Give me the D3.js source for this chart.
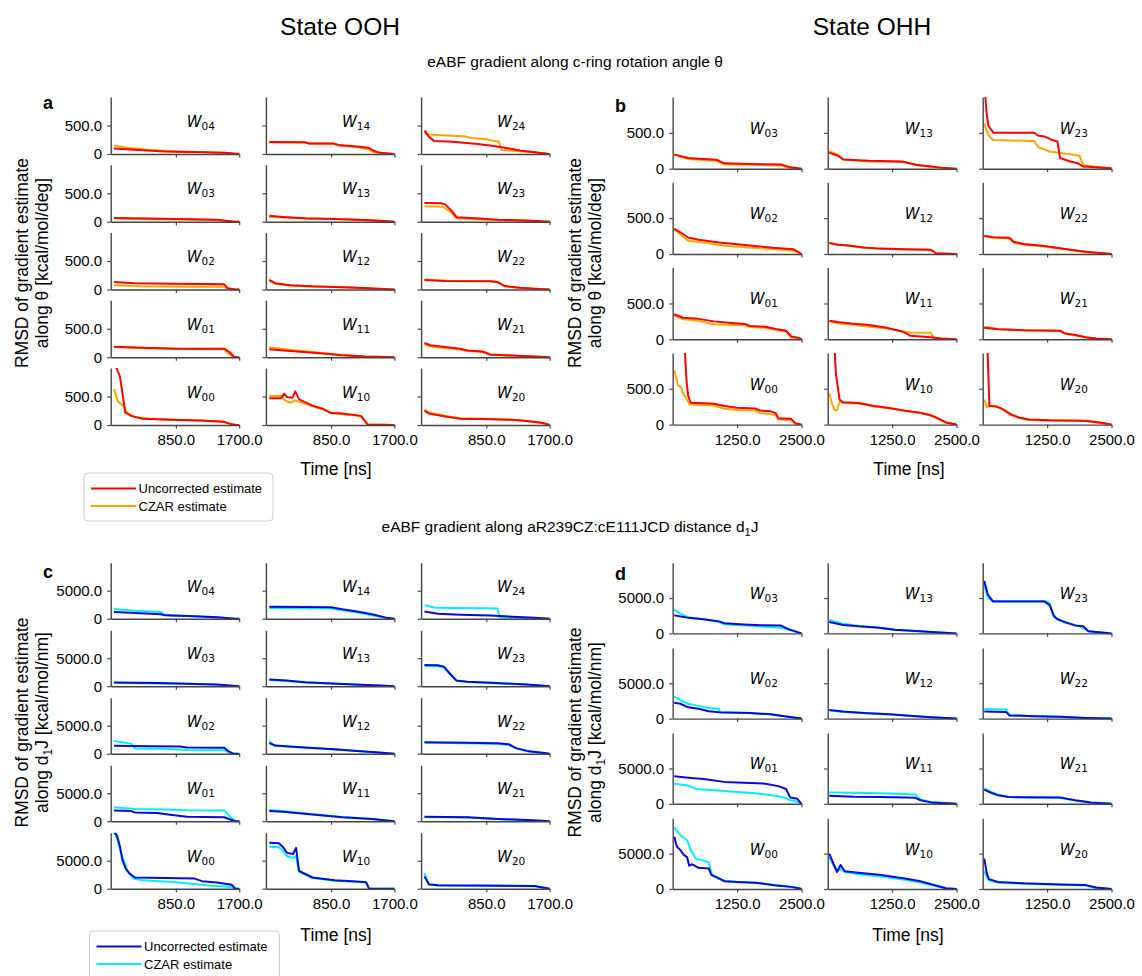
<!DOCTYPE html>
<html>
<head>
<meta charset="utf-8">
<script src="https://cdn.jsdelivr.net/npm/d3@7"></script>
<style>
  body { margin: 0; background: #fff; }
  svg text { font-family: "Liberation Sans", Arial, sans-serif; fill: #000; }
</style>
</head>
<body>
<svg id="chart" width="1142" height="976"></svg>
<script>
// RMSD of eABF gradient estimates per window, uncorrected vs CZAR

// window layout (rows top to bottom)
const gridOOH = [["W04","W14","W24"],["W03","W13","W23"],["W02","W12","W22"],["W01","W11","W21"],["W00","W10","W20"]];
const gridOHH = [["W03","W13","W23"],["W02","W12","W22"],["W01","W11","W21"],["W00","W10","W20"]];

// ticks
const xTicksOOH = [850, 1700], xTicksOHH = [1250, 2500];
const yTicksAngle = [0, 500], yTicksDist = [0, 5000];

// series: [time ns, RMSD]
const angleOOH_uncorr = {
  W04: [[20,95],[300,75],[700,45],[1200,30],[1500,20],[1650,5],[1700,0]],
  W14: [[20,210],[500,205],[560,185],[880,185],[950,160],[1200,130],[1350,110],[1420,60],[1480,25],[1650,5],[1700,0]],
  W24: [[20,410],[80,300],[150,230],[400,215],[700,180],[900,150],[1100,110],[1300,60],[1500,30],[1700,0]],
  W03: [[20,65],[500,55],[1000,45],[1400,35],[1550,15],[1650,0],[1700,0]],
  W13: [[20,105],[200,85],[500,60],[900,50],[1200,35],[1450,20],[1700,0]],
  W23: [[20,330],[250,325],[300,300],[380,200],[450,80],[700,60],[1000,35],[1400,20],[1700,0]],
  W02: [[20,130],[300,110],[800,100],[1250,95],[1500,90],[1550,20],[1650,0],[1700,0]],
  W12: [[20,170],[100,110],[300,75],[600,55],[1000,40],[1300,25],[1550,10],[1700,0]],
  W22: [[20,165],[300,150],[900,145],[1000,130],[1100,60],[1300,30],[1500,15],[1700,0]],
  W01: [[20,185],[400,165],[900,150],[1500,150],[1560,100],[1640,0],[1700,0]],
  W11: [[20,140],[300,110],[700,70],[1000,35],[1300,15],[1700,0]],
  W21: [[20,250],[100,210],[300,180],[500,150],[600,120],[800,100],[900,50],[1200,30],[1500,15],[1700,0]],
  W00: [[20,1100],[100,850],[170,220],[250,160],[400,110],[800,90],[1200,80],[1500,55],[1580,20],[1650,0],[1700,0]],
  W10: [[20,470],[180,470],[220,550],[260,490],[330,480],[370,590],[420,450],[600,340],[750,280],[850,210],[1000,200],[1250,160],[1340,10],[1700,0]],
  W20: [[20,250],[80,200],[300,150],[500,110],[900,100],[1200,90],[1400,70],[1600,40],[1700,0]]
};
const angleOOH_czar = {
  W04: [[20,150],[200,110],[500,70],[900,45],[1300,30],[1600,15],[1700,0]],
  W14: [[20,205],[500,200],[560,180],[880,180],[950,150],[1200,120],[1350,85],[1400,40],[1500,20],[1650,5],[1700,0]],
  W24: [[20,400],[80,340],[300,325],[550,310],[650,280],[850,260],[950,230],[1020,220],[1050,70],[1300,50],[1500,25],[1700,0]],
  W03: [[20,55],[500,45],[1000,40],[1400,30],[1600,5],[1700,0]],
  W13: [[20,85],[200,75],[500,55],[900,48],[1200,35],[1450,18],[1700,0]],
  W23: [[20,270],[250,265],[300,240],[380,160],[450,60],[700,45],[1000,30],[1400,15],[1700,0]],
  W02: [[20,75],[400,55],[1000,50],[1500,50],[1550,5],[1700,0]],
  W12: [[20,150],[100,100],[300,70],[600,50],[1000,38],[1300,22],[1550,8],[1700,0]],
  W22: [[20,175],[300,155],[900,150],[1000,130],[1100,55],[1300,30],[1500,15],[1700,0]],
  W01: [[20,180],[400,160],[900,145],[1500,140],[1540,80],[1620,0],[1700,0]],
  W11: [[20,175],[300,130],[700,80],[1000,40],[1300,15],[1700,0]],
  W21: [[20,225],[100,190],[300,160],[500,135],[600,110],[800,90],[900,45],[1200,25],[1500,10],[1700,0]],
  W00: [[20,630],[70,420],[150,320],[200,210],[300,140],[500,110],[800,90],[1200,75],[1500,55],[1580,15],[1700,0]],
  W10: [[20,510],[180,510],[220,440],[300,390],[370,430],[420,410],[600,330],[750,270],[850,210],[1000,190],[1250,160],[1340,10],[1700,0]],
  W20: [[20,270],[80,220],[300,160],[500,120],[900,105],[1200,90],[1400,65],[1600,35],[1700,0]]
};

const angleOHH_uncorr = {
  W03: [[30,200],[300,150],[500,140],[850,125],[1000,75],[1500,65],[2100,60],[2250,25],[2500,0]],
  W13: [[30,225],[200,180],[300,130],[800,110],[1450,100],[1750,50],[2200,15],[2500,0]],
  W23: [[40,1100],[80,750],[110,600],[210,500],[1000,500],[1080,460],[1200,450],[1350,400],[1450,380],[1500,150],[1700,100],[1850,75],[1950,30],[2500,5]],
  W02: [[30,355],[150,300],[300,230],[500,200],[900,160],[1250,135],[1700,105],[2000,85],[2350,65],[2500,0]],
  W12: [[30,155],[200,130],[400,120],[700,90],[1000,75],[1500,65],[2000,60],[2100,10],[2500,0]],
  W22: [[30,255],[200,235],[520,225],[600,170],[800,140],[1200,110],[1600,70],[2000,30],[2500,0]],
  W01: [[30,350],[200,300],[500,285],[800,250],[1200,225],[1400,215],[1500,185],[1800,175],[2000,145],[2200,120],[2300,40],[2450,20],[2500,0]],
  W11: [[30,260],[200,240],[450,220],[800,200],[1150,160],[1250,140],[1450,110],[1600,50],[2000,30],[2200,10],[2500,0]],
  W21: [[30,160],[300,140],[800,125],[1500,120],[1600,80],[1800,60],[2000,30],[2200,10],[2500,0]],
  W00: [[230,1100],[270,600],[300,400],[350,305],[800,290],[1000,260],[1250,235],[1600,225],[1700,195],[1900,185],[2000,160],[2050,90],[2300,80],[2380,20],[2500,0]],
  W10: [[130,1100],[160,700],[230,350],[300,310],[600,300],[900,260],[1200,230],[1500,195],[1800,165],[2000,130],[2100,100],[2300,30],[2500,0]],
  W20: [[90,1100],[110,700],[130,260],[250,255],[350,230],[450,190],[550,140],[700,100],[900,70],[1300,60],[2000,55],[2300,25],[2500,0]]
};
const angleOHH_czar = {
  W03: [[30,190],[300,135],[500,125],[850,110],[1000,60],[1500,55],[2100,45],[2250,15],[2500,0]],
  W13: [[30,245],[200,195],[300,130],[800,100],[1450,95],[1750,45],[2200,12],[2500,0]],
  W23: [[30,630],[100,480],[200,400],[1000,385],[1080,300],[1200,270],[1300,240],[1500,220],[1700,200],[1880,180],[1950,50],[2200,25],[2500,5]],
  W02: [[30,345],[150,270],[300,185],[600,160],[1000,115],[1400,95],[2000,65],[2350,45],[2500,0]],
  W12: [[30,150],[200,128],[400,118],[700,88],[1000,72],[1500,62],[2000,58],[2100,8],[2500,0]],
  W22: [[30,245],[200,230],[520,215],[600,160],[800,130],[1200,105],[1600,65],[2000,25],[2500,0]],
  W01: [[30,330],[200,280],[500,260],[800,210],[1200,200],[1400,195],[1500,170],[1800,160],[2000,130],[2200,110],[2300,25],[2450,10],[2500,0]],
  W11: [[30,250],[200,225],[450,205],[800,175],[1150,150],[1250,140],[1450,110],[1600,95],[2000,90],[2060,15],[2500,0]],
  W21: [[30,175],[300,145],[800,125],[1500,120],[1600,80],[1800,55],[2000,25],[2200,8],[2500,0]],
  W00: [[30,755],[100,550],[170,520],[200,440],[250,380],[330,280],[800,265],[1000,220],[1250,205],[1600,195],[1700,160],[1900,145],[2000,130],[2050,70],[2300,60],[2380,10],[2500,0]],
  W10: [[30,440],[80,300],[130,210],[180,200],[240,330],[300,300],[600,295],[900,255],[1200,225],[1500,190],[1800,160],[2000,125],[2100,95],[2300,25],[2500,0]],
  W20: [[30,350],[80,240],[120,260],[250,250],[350,225],[450,180],[550,135],[700,95],[900,65],[1300,58],[2000,50],[2300,20],[2500,0]]
};

const distOOH_uncorr = {
  W04: [[20,1200],[300,1000],[650,800],[700,600],[1100,450],[1400,250],[1650,0],[1700,0]],
  W14: [[20,2150],[500,2100],[850,2050],[1000,1700],[1200,1300],[1400,800],[1600,150],[1700,0]],
  W24: [[20,1300],[200,900],[500,700],[900,550],[1200,350],[1500,150],[1700,0]],
  W03: [[20,680],[600,550],[1000,450],[1400,300],[1600,100],[1700,0]],
  W13: [[20,1200],[250,1000],[500,700],[1000,400],[1500,120],[1700,0]],
  W23: [[20,3800],[200,3750],[280,3500],[380,2000],[450,1000],[600,800],[1000,550],[1400,300],[1700,0]],
  W02: [[20,1400],[500,1350],[900,1300],[1000,1100],[1500,1050],[1560,400],[1620,0],[1700,0]],
  W12: [[20,1900],[100,1450],[500,1100],[900,800],[1200,500],[1500,200],[1700,0]],
  W22: [[20,2050],[600,1950],[1000,1850],[1150,1700],[1250,1000],[1400,500],[1600,150],[1700,0]],
  W01: [[20,1900],[250,1800],[300,1550],[600,1450],[800,1100],[1000,800],[1500,700],[1580,300],[1650,0],[1700,0]],
  W11: [[20,1800],[200,1700],[600,1200],[1000,700],[1400,400],[1700,0]],
  W21: [[20,800],[600,700],[1000,400],[1400,200],[1700,0]],
  W00: [[20,10200],[60,9500],[100,7500],[130,5200],[180,3500],[230,2700],[300,2000],[700,1900],[1100,1800],[1200,1350],[1400,1100],[1600,700],[1650,0],[1700,0]],
  W10: [[20,8200],[150,8100],[200,7500],[260,6400],[340,6200],[380,7300],[420,3200],[600,2000],[900,1500],[1200,1300],[1320,1150],[1360,0],[1700,0]],
  W20: [[20,2200],[80,800],[200,600],[800,550],[1500,500],[1700,0]]
};
const distOOH_czar = {
  W04: [[20,1750],[300,1400],[650,1200],[700,650],[1100,450],[1400,250],[1650,0],[1700,0]],
  W14: [[20,1900],[500,1850],[850,1800],[1000,1500],[1200,1100],[1400,600],[1600,100],[1700,0]],
  W24: [[20,2400],[150,2000],[400,1900],[800,1850],[1000,1800],[1030,200],[1300,150],[1700,0]],
  W03: [[20,620],[600,500],[1000,420],[1400,280],[1600,80],[1700,0]],
  W13: [[20,1100],[250,950],[500,650],[1000,380],[1500,100],[1700,0]],
  W23: [[20,3600],[200,3550],[280,3300],[380,1900],[450,950],[600,750],[1000,500],[1400,280],[1700,0]],
  W02: [[20,2250],[150,2000],[250,1800],[300,950],[700,900],[1000,650],[1500,600],[1560,200],[1620,0],[1700,0]],
  W12: [[20,2200],[100,1400],[500,1050],[900,750],[1200,480],[1500,180],[1700,0]],
  W22: [[20,1950],[600,1850],[1000,1750],[1150,1600],[1250,950],[1400,450],[1600,120],[1700,0]],
  W01: [[20,2500],[300,2200],[700,2100],[1000,1950],[1500,1900],[1600,500],[1650,0],[1700,0]],
  W11: [[20,2000],[200,1800],[600,1250],[1000,750],[1400,400],[1700,0]],
  W21: [[20,750],[600,650],[1000,380],[1400,180],[1700,0]],
  W00: [[20,10000],[60,9000],[100,7000],[150,5000],[200,3200],[280,1800],[400,1500],[800,1200],[1100,850],[1300,550],[1600,300],[1650,0],[1700,0]],
  W10: [[20,7500],[150,7400],[200,6800],[260,5800],[340,5500],[380,5800],[420,3000],[600,1900],[900,1400],[1200,1200],[1320,1100],[1360,0],[1700,0]],
  W20: [[20,2800],[80,700],[200,550],[800,500],[1500,450],[1700,0]]
};

const distOHH_uncorr = {
  W03: [[30,2550],[300,2200],[600,2000],[900,1700],[1000,1450],[1300,1300],[1700,1150],[2100,1100],[2250,600],[2500,0]],
  W13: [[30,1600],[300,1200],[600,1000],[1000,800],[1300,500],[1800,300],[2500,0]],
  W23: [[30,7400],[100,5500],[200,4500],[1200,4500],[1300,4000],[1380,2500],[1450,2000],[1600,1600],[1800,1100],[1950,1000],[2050,300],[2500,0]],
  W02: [[30,2250],[150,2100],[300,1600],[500,1400],[700,1050],[900,900],[1500,800],[1900,600],[2200,300],[2500,0]],
  W12: [[30,1200],[300,1000],[700,800],[1200,600],[1600,400],[2000,200],[2500,0]],
  W22: [[30,1000],[450,950],[520,450],[1000,350],[1500,250],[2000,100],[2500,0]],
  W01: [[30,3900],[300,3700],[600,3500],[1000,3100],[1500,2950],[1800,2850],[2050,2500],[2200,2100],[2280,900],[2420,700],[2500,0]],
  W11: [[30,1150],[500,1000],[1000,950],[1500,900],[1700,850],[1800,500],[2000,200],[2500,0]],
  W21: [[30,2000],[150,1600],[300,1200],[500,950],[1500,900],[1800,500],[2100,200],[2500,0]],
  W00: [[30,7400],[80,6000],[150,5500],[220,4800],[280,4500],[320,3300],[380,3500],[500,3000],[700,2900],[750,2000],[900,1500],[1000,1100],[1250,1000],[1600,900],[2000,500],[2300,300],[2450,100],[2500,0]],
  W10: [[30,5000],[100,3800],[180,2400],[250,3400],[330,2500],[600,2300],[1000,2000],[1500,1500],[1800,1100],[2100,500],[2300,100],[2500,0]],
  W20: [[30,4300],[80,2200],[120,1400],[300,1000],[800,800],[1500,650],[2000,550],[2200,200],[2500,0]]
};
const distOHH_czar = {
  W03: [[30,3350],[150,2800],[300,2300],[600,2000],[900,1600],[1000,1300],[1300,1150],[1700,1000],[2100,800],[2250,500],[2500,0]],
  W13: [[30,1900],[300,1350],[600,1050],[1000,800],[1300,500],[1800,280],[2500,0]],
  W23: [[30,6800],[100,5000],[200,4600],[1200,4600],[1300,4300],[1380,2300],[1450,2100],[1600,1500],[1800,1200],[1950,800],[2050,350],[2500,0]],
  W02: [[30,3100],[150,2600],[300,2100],[500,1800],[700,1500],[900,1400],[920,850],[1500,800],[1900,600],[2200,300],[2500,0]],
  W12: [[30,1150],[300,950],[700,780],[1200,580],[1600,380],[2000,180],[2500,0]],
  W22: [[30,1350],[450,1300],[520,500],[1000,350],[1500,250],[2000,100],[2500,0]],
  W01: [[30,2850],[300,2600],[450,2100],[800,1900],[1200,1700],[1600,1500],[2000,1150],[2200,800],[2280,500],[2420,300],[2500,0]],
  W11: [[30,1600],[500,1550],[1000,1500],[1500,1400],[1700,1300],[1800,600],[2000,250],[2500,0]],
  W21: [[30,2200],[150,1700],[300,1300],[500,950],[1500,850],[1800,450],[2100,150],[2500,0]],
  W00: [[30,8700],[150,7600],[280,6900],[350,5500],[450,4300],[600,4000],[700,3800],[760,2000],[900,1400],[1000,1200],[1250,1000],[1600,900],[2000,550],[2300,300],[2450,100],[2500,0]],
  W10: [[30,4500],[100,3500],[180,2600],[250,2800],[330,2400],[600,2100],[1000,1800],[1500,1300],[1800,900],[2100,400],[2300,80],[2500,0]],
  W20: [[30,2500],[80,1700],[120,1200],[300,900],[800,750],[1500,600],[2000,500],[2200,150],[2500,0]]
};

const svg = d3.select("#chart");
let clipId = 0;

function drawPanel(p) {
  const x = d3.scaleLinear().domain(p.xDomain).range([0, p.colW]);
  const y = d3.scaleLinear().domain([0, p.yMax]).range([p.rowH, 0]);
  const line = d3.line().x(d => x(d[0])).y(d => y(d[1]));
  const nRows = p.grid.length;

  p.grid.forEach(function(row, ri){
    row.forEach(function(win, ci){
      const g = svg.append("g")
        .attr("transform", "translate(" + (p.left + ci * p.colStep) + "," + (p.top + ri * p.rowStep) + ")");

      const id = "clip" + (clipId++);
      g.append("clipPath").attr("id", id)
        .append("rect").attr("x", 0).attr("y", 0)
        .attr("width", p.colW + 1).attr("height", p.rowH + 1);

      const lines = g.append("g").attr("clip-path", "url(#" + id + ")");
      lines.append("path").datum(p.czar[win])
        .attr("d", line).attr("fill", "none")
        .attr("stroke", p.colors[1]).attr("stroke-width", 2).attr("stroke-linejoin", "round");
      lines.append("path").datum(p.uncorr[win])
        .attr("d", line).attr("fill", "none")
        .attr("stroke", p.colors[0]).attr("stroke-width", 2).attr("stroke-linejoin", "round");

      // axes
      const yAxis = d3.axisLeft(y)
        .tickValues(p.yTicks).tickSize(3.5).tickSizeOuter(0).tickPadding(5)
        .tickFormat(ci === 0 ? (d => d === 0 ? "0" : d3.format(".1f")(d)) : "");
      const xAxis = d3.axisBottom(x)
        .tickValues(p.xTicks).tickSize(3.5).tickSizeOuter(0).tickPadding(6)
        .tickFormat(ri === nRows - 1 ? d3.format(".1f") : "");

      const ya = g.append("g").call(yAxis);
      const xa = g.append("g").attr("transform", "translate(0," + p.rowH + ")").call(xAxis);
      [ya, xa].forEach(function(a){
        a.selectAll("path.domain").attr("stroke", "#444").attr("stroke-width", 1.4);
        a.selectAll(".tick line").attr("stroke", "#444").attr("stroke-width", 1.2);
        a.selectAll(".tick text")
          .attr("font-family", "Liberation Sans, Arial, sans-serif")
          .attr("font-size", 15).attr("fill", "#000");
      });

      // window label W_ij
      const lbl = g.append("text")
        .attr("x", p.labelDx).attr("y", p.rowH * 0.5 + 1)
        .style("font-family", "DejaVu Sans, sans-serif");
      lbl.append("tspan").attr("font-style", "italic").attr("font-size", 15).text("W");
      lbl.append("tspan").attr("font-size", 10.5).attr("dy", 3).text(win.slice(1));
    });
  });

  // panel letter
  svg.append("text").attr("x", p.letter[1]).attr("y", p.letter[2])
    .attr("font-size", 18).attr("font-weight", "bold").text(p.letter[0]);

  // y label (two lines)
  p.ylabel.forEach(function(l){
    const t = svg.append("text")
      .attr("transform", "translate(" + l.x + "," + p.ylabelCy + ") rotate(-90)")
      .attr("text-anchor", "middle").attr("font-size", 17.5);
    l.parts.forEach(function(part){
      const s = t.append("tspan").text(part[0]);
      if (part[1] === "sub") s.attr("font-size", 12).attr("dy", 4);
      if (part[1] === "up") s.attr("dy", -4);
    });
  });

  // x label
  svg.append("text").attr("x", p.xlabel[0]).attr("y", p.xlabel[1])
    .attr("text-anchor", "middle").attr("font-size", 17.5).text("Time [ns]");
}

const redPair = ["#ff0000", "#ffa500"], bluePair = ["#0a0ad8", "#00eeff"];
const angleLabel = [
  { x: 27.5, parts: [["RMSD of gradient estimate"]] },
  { x: 48, parts: [["along θ [kcal/mol/deg]"]] }
];
const distLabel = function(x1, x2){
  return [
    { x: x1, parts: [["RMSD of gradient estimate"]] },
    { x: x2, parts: [["along d"], ["1", "sub"], ["J [kcal/mol/nm]", "up"]] }
  ];
};

drawPanel({
  grid: gridOOH, uncorr: angleOOH_uncorr, czar: angleOOH_czar, colors: redPair,
  left: 110.7, top: 97, colStep: 155.2, rowStep: 67.75, colW: 128.5, rowH: 57,
  xDomain: [-25, 1700], yMax: 1000, xTicks: xTicksOOH, yTicks: yTicksAngle, labelDx: 76,
  letter: ["a", 43, 109], ylabel: angleLabel, ylabelCy: 263, xlabel: [336, 475]
});
drawPanel({
  grid: gridOHH, uncorr: angleOHH_uncorr, czar: angleOHH_czar, colors: redPair,
  left: 672.7, top: 97, colStep: 155, rowStep: 85.3, colW: 128.8, rowH: 71.7,
  xDomain: [0, 2500], yMax: 1000, xTicks: xTicksOHH, yTicks: yTicksAngle, labelDx: 77,
  letter: ["b", 615, 112],
  ylabel: [{ x: 581, parts: [["RMSD of gradient estimate"]] }, { x: 601, parts: [["along θ [kcal/mol/deg]"]] }],
  ylabelCy: 263, xlabel: [909, 475]
});
drawPanel({
  grid: gridOOH, uncorr: distOOH_uncorr, czar: distOOH_czar, colors: bluePair,
  left: 110.7, top: 562.7, colStep: 155.2, rowStep: 67.5, colW: 128.5, rowH: 56,
  xDomain: [-25, 1700], yMax: 10000, xTicks: xTicksOOH, yTicks: yTicksDist, labelDx: 76,
  letter: ["c", 43, 578], ylabel: distLabel(27.5, 48), ylabelCy: 722.5, xlabel: [336, 941]
});
drawPanel({
  grid: gridOHH, uncorr: distOHH_uncorr, czar: distOHH_czar, colors: bluePair,
  left: 672.7, top: 562.7, colStep: 155, rowStep: 85.2, colW: 128.8, rowH: 70.7,
  xDomain: [0, 2500], yMax: 10000, xTicks: xTicksOHH, yTicks: yTicksDist, labelDx: 77,
  letter: ["d", 615, 580], ylabel: distLabel(581, 601), ylabelCy: 732.5, xlabel: [908, 941]
});

// titles
svg.append("text").attr("x", 340).attr("y", 35).attr("text-anchor", "middle").attr("font-size", 24.5).text("State OOH");
svg.append("text").attr("x", 872).attr("y", 35).attr("text-anchor", "middle").attr("font-size", 24.5).text("State OHH");
svg.append("text").attr("x", 575).attr("y", 67).attr("text-anchor", "middle").attr("font-size", 15.5)
  .text("eABF gradient along c-ring rotation angle θ");
const sub = svg.append("text").attr("x", 570).attr("y", 532).attr("text-anchor", "middle").attr("font-size", 15.5);
sub.append("tspan").text("eABF gradient along aR239CZ:cE111JCD distance d");
sub.append("tspan").attr("font-size", 11).attr("dy", 4).text("1");
sub.append("tspan").attr("dy", -4).text("J");

// legends
function legend(x0, y0, w, h, colors) {
  const g = svg.append("g").attr("transform", "translate(" + x0 + "," + y0 + ")");
  g.append("rect").attr("width", w).attr("height", h).attr("rx", 4)
    .attr("fill", "#fff").attr("stroke", "#cccccc").attr("stroke-width", 1);
  ["Uncorrected estimate", "CZAR estimate"].forEach(function(name, i){
    const yy = 15.5 + i * 17.5;
    g.append("line").attr("x1", 7).attr("x2", 52).attr("y1", yy).attr("y2", yy)
      .attr("stroke", colors[i]).attr("stroke-width", 2);
    g.append("text").attr("x", 54.5).attr("y", yy + 4.5).attr("font-size", 13).text(name);
  });
}
legend(84, 473, 189, 48, redPair);
legend(89.5, 931, 190, 50, bluePair);
</script>
</body>
</html>
